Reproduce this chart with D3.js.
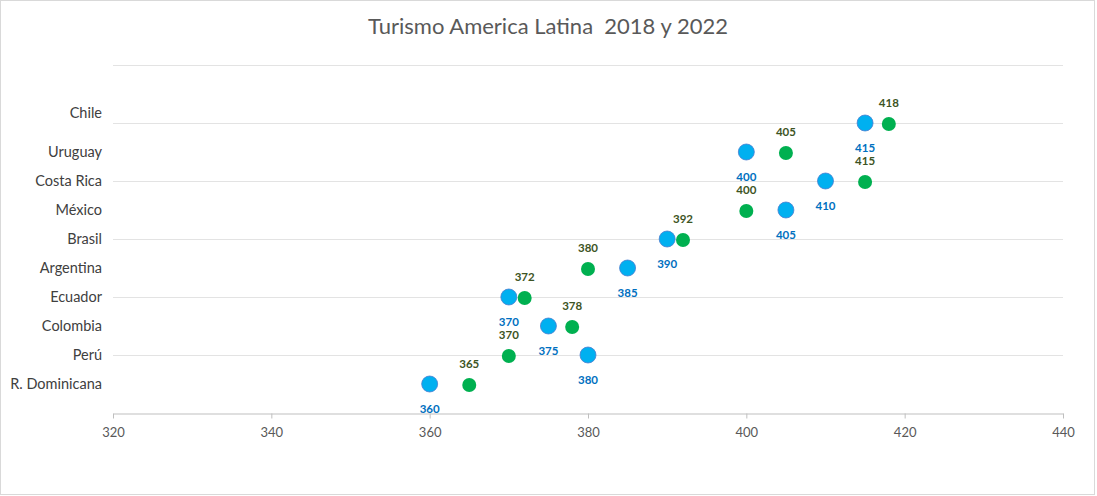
<!DOCTYPE html>
<html>
<head>
<meta charset="utf-8">
<script src="https://cdn.jsdelivr.net/npm/d3@7"></script>
<style>
  body { margin: 0; background: #fff; }
  text { font-family: Lato, "Open Sans", sans-serif; }
</style>
</head>
<body>
<script>
// data, top to bottom as in the chart
const countries = ["Chile", "Uruguay", "Costa Rica", "México", "Brasil", "Argentina", "Ecuador", "Colombia", "Perú", "R. Dominicana"]
const rowPos = [10, 9, 8, 7, 6, 5, 4, 3, 2, 1]
const values2018 = [415, 400, 410, 405, 390, 385, 370, 375, 380, 360]
const values2022 = [418, 405, 415, 400, 392, 380, 372, 378, 370, 365]
const xTicks = [320, 340, 360, 380, 400, 420, 440]
const yGrid = [2, 4, 6, 8, 10, 12]

const width = 1097, height = 496
const margin = { left: 113, right: 34, top: 65, bottom: 83 }

const svg = d3.select("body").append("svg")
    .attr("width", width)
    .attr("height", height)

// chart frame
svg.append("rect")
    .attr("x", 0.5).attr("y", 0.5)
    .attr("width", width - 3).attr("height", height - 2)
    .attr("fill", "#fff")
    .attr("stroke", "#d9d9d9")

const x = d3.scaleLinear().domain([320, 440]).range([margin.left, width - margin.right])
const y = d3.scaleLinear().domain([0, 12]).range([height - margin.bottom, margin.top])

// title (keeps the double space)
svg.append("text")
    .attr("x", 548).attr("y", 34)
    .attr("text-anchor", "middle")
    .attr("font-size", 22)
    .attr("fill", "#595959")
    .style("white-space", "pre")
    .text("Turismo America Latina  2018 y 2022")

// gridlines
svg.append("g")
    .selectAll("line")
    .data(yGrid)
    .join("line")
        .attr("x1", x(320)).attr("x2", x(440))
        .attr("y1", d => Math.round(y(d)) + 0.5)
        .attr("y2", d => Math.round(y(d)) + 0.5)
        .attr("stroke", "#e3e3e3")

// x axis
const xAxis = svg.append("g")
    .attr("transform", `translate(0,${Math.round(y(0)) + 0.5})`)
    .call(d3.axisBottom(x).tickValues(xTicks).tickSize(5).tickSizeOuter(0).tickPadding(9))
xAxis.select(".domain").attr("stroke", "#bfbfbf")
xAxis.selectAll(".tick line").attr("stroke", "#bfbfbf")
xAxis.selectAll(".tick text")
    .attr("fill", "#595959")
    .attr("font-size", 13)
    .attr("font-family", "Lato, 'Open Sans', sans-serif")

// category labels (Chile sits a bit higher in the original)
svg.append("g")
    .selectAll("text")
    .data(countries)
    .join("text")
        .attr("x", 102)
        .attr("y", (d, i) => y(rowPos[i]) + (i === 0 ? -10 : 0))
        .attr("dy", "0.35em")
        .attr("text-anchor", "end")
        .attr("font-size", 14.5)
        .attr("fill", "#404040")
        .text(d => d)

// 2018 series (blue)
const blue = svg.append("g")
blue.selectAll("circle")
    .data(values2018)
    .join("circle")
        .attr("cx", d => x(d))
        .attr("cy", (d, i) => y(rowPos[i]))
        .attr("r", 8)
        .attr("fill", "#00b0f0")
        .attr("stroke", "#4a7ed0")
        .attr("stroke-width", 0.8)
blue.selectAll("text")
    .data(values2018)
    .join("text")
        .attr("x", d => x(d))
        .attr("y", (d, i) => y(rowPos[i]) + 24.5)
        .attr("dy", "0.35em")
        .attr("text-anchor", "middle")
        .attr("font-size", 11.5)
        .attr("font-weight", "bold")
        .attr("fill", "#0070c0")
        .text(d => d)

// 2022 series (green)
const green = svg.append("g")
green.selectAll("circle")
    .data(values2022)
    .join("circle")
        .attr("cx", d => x(d))
        .attr("cy", (d, i) => y(rowPos[i]) + 1)
        .attr("r", 7)
        .attr("fill", "#00b050")
green.selectAll("text")
    .data(values2022)
    .join("text")
        .attr("x", d => x(d))
        .attr("y", (d, i) => y(rowPos[i]) - 20.5)
        .attr("dy", "0.35em")
        .attr("text-anchor", "middle")
        .attr("font-size", 11.5)
        .attr("font-weight", "bold")
        .attr("fill", "#3d5424")
        .text(d => d)
</script>
</body>
</html>
